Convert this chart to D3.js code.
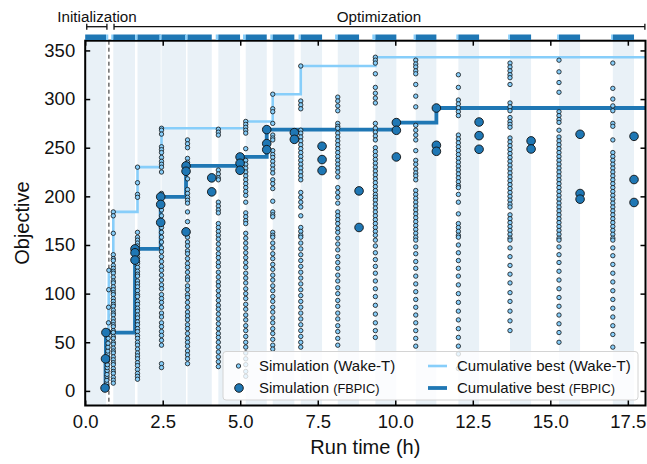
<!DOCTYPE html>
<html><head><meta charset="utf-8">
<script src="https://cdn.jsdelivr.net/npm/d3@7"></script>
<style>body{margin:0;background:#fff}svg{font-family:"Liberation Sans",Arial,Helvetica,sans-serif}</style>
</head><body><svg id="c" width="647" height="464"></svg>
<script>
// ---------------- DATA ----------------
const xTicks = [0, 2.5, 5, 7.5, 10, 12.5, 15, 17.5];
const yTicks = [0, 50, 100, 150, 200, 250, 300, 350];
const initEnd = 0.765;
// Initialization run segments (h)
const initFbpicRun = [0, 0.674];
const initWakeTRun = [0.674, 0.745];
// Wake-T initial samples
const wtInitTimes  = [0.690,0.694,0.697,0.701,0.704,0.708,0.711,0.715,0.719,0.722,0.726,0.729,0.733,0.737,0.741,0.745,0.750,0.754,0.758,0.763];
const wtInitValues = [4, 8, 11, 15, 17, 21, 24, 27, 31, 34, 38, 41, 45, 49, 54, 61, 70, 86, 104, 124];
// FBPIC initial samples
const fbInitTimes  = [0.640, 0.655, 0.668];
const fbInitValues = [3, 33, 60];
// Optimization batches
const wtRunStart   = [0.84, 1.61, 2.39, 3.22, 4.21, 5.09, 5.97, 6.88, 8.06, 9.26, 10.59, 11.97, 13.64, 15.22, 16.96];
const wtBatchTimes = [0.906, 1.687, 2.461, 3.30, 4.294, 5.177, 6.048, 6.952, 8.145, 9.358, 10.66, 12.035, 13.70, 15.28, 17.016];
const fbBatchTimes = [1.606, 2.435, 3.252, 4.081, 4.994, 5.855, 6.745, 7.639, 8.832, 10.035, 11.326, 12.703, 14.38, 15.96, 17.70];
const wtBatchValues = [
  [184, 180, 162, 140, 136, 134, 129, 126, 123, 121, 117, 113, 111, 107, 104, 101, 99, 95, 92, 89, 87, 83, 80, 78, 74, 71, 68, 66, 62, 60, 56, 54, 50, 48, 44, 41, 39, 35, 32, 29, 27, 23, 20, 18, 14, 11, 8],
  [230, 214, 202, 199, 163, 158, 155, 152, 149, 144, 141, 137, 133, 131, 127, 123, 120, 118, 113, 110, 107, 103, 99, 97, 92, 89, 85, 82, 78, 75, 71, 68, 64, 61, 57, 54, 50, 47, 43, 39, 36, 33, 29, 26, 22, 18, 15, 12],
  [270, 268, 264, 251, 248, 245, 240, 236, 233, 230, 225, 203, 199, 194, 186, 180, 172, 168, 163, 158, 153, 147, 143, 138, 133, 128, 124, 119, 114, 109, 105, 99, 95, 91, 86, 80, 76, 70, 66, 61, 57, 52, 47, 28, 24],
  [258, 254, 250, 239, 235, 225, 218, 207, 203, 199, 196, 193, 184, 174, 163, 158, 153, 149, 144, 141, 136, 131, 127, 122, 117, 114, 108, 104, 99, 96, 91, 86, 81, 77, 73, 68, 64, 59, 54, 50, 46, 41, 37, 33, 28],
  [269, 266, 263, 227, 223, 219, 217, 194, 190, 186, 183, 172, 168, 164, 160, 156, 151, 146, 141, 137, 132, 128, 122, 117, 112, 108, 103, 98, 93, 88, 84, 79, 74, 69, 64, 59, 55, 50, 45, 40, 35, 30, 25],
  [277, 274, 271, 268, 265, 249, 237, 233, 229, 225, 221, 217, 213, 209, 205, 201, 194, 183, 179, 175, 172, 162, 157, 152, 147, 142, 137, 132, 127, 121, 116, 111, 105, 100, 95, 89, 84, 78, 73, 67, 62, 56, 50, 45, 39, 33, 27, 20, 15],
  [305, 290, 287, 275, 263, 260, 258, 247, 243, 240, 236, 232, 228, 224, 217, 213, 208, 195, 184, 181, 179, 163, 160, 158, 152, 147, 141, 136, 130, 125, 119, 114, 108, 103, 97, 92, 86, 81, 75, 70, 64, 59, 53, 47, 43],
  [334, 298, 294, 290, 268, 265, 261, 257, 253, 249, 245, 241, 237, 233, 229, 225, 221, 217, 204, 199, 194, 189, 180, 168, 164, 160, 158, 152, 146, 140, 134, 128, 122, 116, 110, 104, 98, 92, 86, 80, 74, 68, 62, 56, 50, 45],
  [302, 298, 293, 288, 275, 272, 270, 265, 261, 257, 253, 249, 245, 241, 237, 233, 229, 225, 220, 209, 204, 199, 193, 184, 180, 176, 172, 167, 163, 157, 151, 145, 138, 132, 126, 119, 113, 106, 100, 93, 87, 80, 74, 67, 61, 54, 47],
  [343, 340, 337, 326, 312, 306, 301, 296, 275, 270, 266, 262, 258, 250, 246, 242, 238, 234, 230, 226, 222, 218, 214, 210, 206, 202, 199, 196, 192, 188, 184, 180, 176, 172, 168, 164, 160, 155, 149, 142, 135, 128, 121, 113, 105, 97, 88, 79, 70, 62, 55],
  [340, 336, 333, 329, 326, 315, 303, 292, 273, 268, 263, 258, 247, 237, 233, 228, 224, 221, 217, 206, 202, 198, 194, 190, 186, 182, 178, 174, 170, 166, 162, 158, 155, 148, 141, 133, 126, 118, 110, 102, 94, 86, 78, 70, 62, 54, 46],
  [325, 312, 299, 295, 291, 287, 283, 263, 259, 255, 251, 247, 243, 239, 235, 231, 227, 223, 219, 215, 211, 209, 202, 194, 182, 172, 168, 164, 160, 158, 150, 142, 134, 126, 118, 109, 100, 91, 82, 73, 64, 55, 46, 38, 23],
  [337, 333, 329, 325, 322, 315, 296, 292, 288, 281, 277, 274, 271, 260, 256, 252, 248, 244, 240, 236, 232, 228, 224, 220, 216, 212, 208, 204, 200, 196, 192, 189, 181, 177, 173, 169, 165, 161, 157, 155, 147, 138, 129, 120, 111, 101, 92, 82, 72, 62],
  [340, 328, 317, 307, 287, 283, 279, 276, 268, 261, 257, 253, 249, 245, 241, 237, 233, 229, 225, 221, 217, 213, 209, 205, 201, 197, 193, 189, 185, 181, 177, 173, 169, 165, 161, 157, 155, 148, 140, 132, 123, 114, 105, 96, 87, 78, 69, 60, 50],
  [337, 311, 300, 293, 288, 275, 272, 258, 245, 241, 237, 233, 229, 225, 221, 217, 213, 209, 205, 201, 197, 193, 189, 185, 181, 177, 173, 169, 165, 161, 157, 155, 147, 139, 130, 121, 112, 103, 94, 85, 76, 67, 58, 45]
];
const fbBatchValues = [
  [146, 142, 134.5],
  [199.5, 191.7, 173.2],
  [231.3, 225.8, 163.5],
  [219, 204.6],
  [240.5, 234, 226.8],
  [268.6, 254.2, 248],
  [265.5, 258.6],
  [251.5, 237.8, 226.5],
  [205.6, 168],
  [275.8, 267.9, 240.5],
  [290.8, 252.5, 246.3],
  [276.4, 262.4, 248.4],
  [257, 248.7],
  [263.8, 202.9, 197.1],
  [261.7, 217.3, 193.7]
];

// ---------------- STYLE ----------------
const C_DARK = "#1f77b4", C_LIGHT = "#87cefa", C_BAND = "#e9f1f7";
const svg = d3.select("#c");
const xMax = 18.07;
const x = d3.scaleLinear().domain([0, xMax]).range([85.2, 645.5]);
const y = d3.scaleLinear().domain([-15, 360]).range([405.5, 40.7]);
const [L, R] = x.range(), [B, T] = y.range();

// points
const wtPts = [];
wtInitTimes.forEach((t, i) => wtPts.push({t, v: wtInitValues[i]}));
wtBatchTimes.forEach((t, i) => wtBatchValues[i].forEach(v => wtPts.push({t, v})));
const fbPts = [];
fbInitTimes.forEach((t, i) => fbPts.push({t, v: fbInitValues[i]}));
fbBatchTimes.forEach((t, i) => fbBatchValues[i].forEach(v => fbPts.push({t, v})));

function cumBest(pts) {
  const s = pts.slice().sort((a, b) => a.t - b.t || a.v - b.v);
  const out = []; let best = -Infinity;
  s.forEach(p => { if (p.v > best) { best = p.v; out.push({t: p.t, v: best}); } });
  out.push({t: xMax, v: best});
  return out;
}

svg.append("defs").append("clipPath").attr("id", "pc")
  .append("rect").attr("x", L).attr("y", T).attr("width", R - L).attr("height", B - T);

const plot = svg.append("g").attr("clip-path", "url(#pc)");
// bands
const bands = [initFbpicRun].concat(wtBatchTimes.map((t, i) => [t, fbBatchTimes[i]]));
plot.selectAll("rect.band").data(bands).join("rect").attr("class", "band")
  .attr("x", d => x(d[0])).attr("width", d => x(d[1]) - x(d[0]))
  .attr("y", T).attr("height", B - T).attr("fill", C_BAND);
// dashed init line
plot.append("line").attr("x1", x(initEnd)).attr("x2", x(initEnd)).attr("y1", T).attr("y2", B)
  .attr("stroke", "#222").attr("stroke-width", 1).attr("stroke-dasharray", "4,3");

const line = d3.line().x(d => x(d.t)).y(d => y(d.v)).curve(d3.curveStepAfter);
plot.append("path").attr("d", line(cumBest(wtPts))).attr("fill", "none")
  .attr("stroke", C_LIGHT).attr("stroke-width", 2.6);
plot.append("path").attr("d", line(cumBest(fbPts))).attr("fill", "none")
  .attr("stroke", C_DARK).attr("stroke-width", 3.8);

plot.selectAll("circle.wt").data(wtPts).join("circle").attr("class", "wt")
  .attr("cx", d => x(d.t)).attr("cy", d => y(d.v)).attr("r", 2.2)
  .attr("fill", C_LIGHT).attr("stroke", "#111").attr("stroke-width", 0.8);
plot.selectAll("circle.fb").data(fbPts).join("circle").attr("class", "fb")
  .attr("cx", d => x(d.t)).attr("cy", d => y(d.v)).attr("r", 4.3)
  .attr("fill", C_DARK).attr("stroke", "#111").attr("stroke-width", 0.9);

// legend
const lg = svg.append("g");
lg.append("rect").attr("x", 223).attr("y", 351.5).attr("width", 415).attr("height", 48.5).attr("rx", 3)
  .attr("fill", "#fff").attr("fill-opacity", 0.8).attr("stroke", "#d4d4d4").attr("stroke-width", 1);
lg.append("circle").attr("cx", 238.5).attr("cy", 366).attr("r", 2.2).attr("fill", C_LIGHT).attr("stroke", "#111").attr("stroke-width", 0.8);
lg.append("circle").attr("cx", 239).attr("cy", 388).attr("r", 4.3).attr("fill", C_DARK).attr("stroke", "#111").attr("stroke-width", 0.9);
lg.append("line").attr("x1", 428).attr("x2", 447).attr("y1", 366).attr("y2", 366).attr("stroke", C_LIGHT).attr("stroke-width", 2.6);
lg.append("line").attr("x1", 428).attr("x2", 447).attr("y1", 388).attr("y2", 388).attr("stroke", C_DARK).attr("stroke-width", 3.8);
function legText(xp, yp, main, sub, subSmall) {
  const t = lg.append("text").attr("x", xp).attr("y", yp).attr("font-size", 15).attr("fill", "#111");
  t.append("tspan").text(main);
  t.append("tspan").attr("font-size", subSmall ? 12.8 : 15).text(sub);
}
legText(259, 371.3, "Simulation ", "(Wake-T)", false);
legText(259, 393.3, "Simulation ", "(FBPIC)", true);
legText(457, 371.3, "Cumulative best ", "(Wake-T)", false);
legText(457, 393.3, "Cumulative best ", "(FBPIC)", true);

// axes
function styleAxis(g) { g.select(".domain").remove(); g.selectAll(".tick line").attr("stroke", "#000").attr("stroke-width", 1.5);
  g.selectAll("text").attr("font-size", 18.5).attr("fill", "#111").attr("font-family", '"Liberation Sans",Arial,sans-serif'); }
svg.append("g").attr("transform", `translate(0,${B})`)
  .call(d3.axisBottom(x).tickValues(xTicks).tickFormat(d3.format(".1f")).tickSizeInner(-5).tickSizeOuter(0).tickPadding(9)).call(styleAxis);
svg.append("g").attr("transform", `translate(0,${T})`)
  .call(d3.axisTop(x).tickValues(xTicks).tickFormat("").tickSizeInner(-5).tickSizeOuter(0)).call(styleAxis);
svg.append("g").attr("transform", `translate(${L},0)`)
  .call(d3.axisLeft(y).tickValues(yTicks).tickSizeInner(-5).tickSizeOuter(0).tickPadding(10)).call(styleAxis);
svg.append("g").attr("transform", `translate(${R},0)`)
  .call(d3.axisRight(y).tickValues(yTicks).tickFormat("").tickSizeInner(-5).tickSizeOuter(0)).call(styleAxis);
svg.append("rect").attr("x", L).attr("y", T).attr("width", R - L).attr("height", B - T)
  .attr("fill", "none").attr("stroke", "#000").attr("stroke-width", 2);

// top run bars
const segs = [{a: initFbpicRun[0], b: initFbpicRun[1], c: C_DARK}, {a: initWakeTRun[0], b: initWakeTRun[1], c: C_LIGHT}];
wtBatchTimes.forEach((t, i) => { segs.push({a: wtRunStart[i], b: t, c: C_LIGHT}); segs.push({a: t, b: fbBatchTimes[i], c: C_DARK}); });
svg.selectAll("rect.seg").data(segs).join("rect").attr("class", "seg")
  .attr("x", d => x(d.a)).attr("width", d => x(d.b) - x(d.a)).attr("y", 34.5).attr("height", 5.5).attr("fill", d => d.c);

// phase brackets
function bracket(x1, x2, yy) {
  const g = svg.append("g").attr("stroke", "#111").attr("stroke-width", 1.3);
  g.append("line").attr("x1", x1).attr("x2", x2).attr("y1", yy).attr("y2", yy);
  g.append("line").attr("x1", x1).attr("x2", x1).attr("y1", yy - 3).attr("y2", yy + 3);
  g.append("line").attr("x1", x2).attr("x2", x2).attr("y1", yy - 3).attr("y2", yy + 3);
}
bracket(x(0.05), x(0.70), 26.7);
bracket(x(0.93), x(18.05), 26.7);
svg.append("text").attr("x", 97).attr("y", 21.5).attr("text-anchor", "middle").attr("font-size", 15.2).attr("fill", "#111").text("Initialization");
svg.append("text").attr("x", 379).attr("y", 21.5).attr("text-anchor", "middle").attr("font-size", 15.2).attr("fill", "#111").text("Optimization");

// axis labels
svg.append("text").attr("x", (L + R) / 2).attr("y", 454).attr("text-anchor", "middle").attr("font-size", 20).attr("fill", "#111").text("Run time (h)");
svg.append("text").attr("transform", `translate(29,${(T + B) / 2}) rotate(-90)`).attr("text-anchor", "middle").attr("font-size", 20).attr("fill", "#111").text("Objective");
</script></body></html>
